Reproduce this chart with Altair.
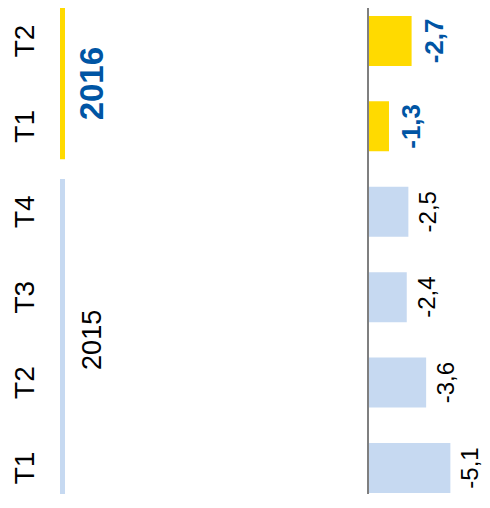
import altair as alt
import pandas as pd

# Data (chronological order)
quarters = ["T1", "T2", "T3", "T4", "T1", "T2"]
years = ["2015", "2015", "2015", "2015", "2016", "2016"]
values = [-5.1, -3.6, -2.4, -2.5, -1.3, -2.7]
year_list = ["2015", "2016"]

n = len(values)
df = pd.DataFrame({
    "quarter": quarters,
    "year": years,
    "value": values,
    "pos": [n - 1 - i for i in range(n)],
})
df["label"] = df["value"].map(lambda v: f"{v:.1f}".replace(".", ","))

# group extents for the year lines / labels
inset = 0.115
groups = df.groupby("year")["pos"].agg(["min", "max"]).reset_index()
groups["y1"] = groups["min"] - 0.5 + inset
groups["y2"] = groups["max"] + 0.5 - inset
groups["mid"] = (groups["min"] + groups["max"]) / 2

W, H = 474, 486
PX_PER_UNIT = 16.15
ZERO_X = 360
yscale = alt.Scale(domain=[-0.386, -0.386 + H / 85.4], reverse=True, nice=False, zero=False, padding=0)
xscale = alt.Scale(domain=[-(W - ZERO_X) / PX_PER_UNIT, ZERO_X / PX_PER_UNIT],
                   reverse=True, nice=False, zero=False, padding=0)

colors = alt.Scale(domain=year_list, range=["#C6D9F1", "#FFDA00"])
BLUE = "#0055A4"
FONT = "Liberation Sans"

base = alt.Chart(df)

bars = base.mark_bar(size=50, orient="horizontal").encode(
    x=alt.X("value:Q", scale=xscale, axis=None),
    x2=alt.datum(0),
    y=alt.Y("pos:Q", scale=yscale, axis=None),
    color=alt.Color("year:N", scale=colors, legend=None),
)

zero_rule = base.mark_rule(color="#7F7F7F", strokeWidth=2).encode(
    x=alt.datum(0, scale=xscale),
    y=alt.value(0),
    y2=alt.value(H),
)

lab15 = base.transform_filter(alt.datum.year == "2015").mark_text(
    angle=270, align="center", baseline="top", dy=9, fontSize=24, font=FONT, color="black"
).encode(
    x=alt.X("value:Q", scale=xscale),
    y=alt.Y("pos:Q", scale=yscale),
    text="label:N",
)
lab16 = base.transform_filter(alt.datum.year == "2016").mark_text(
    angle=270, align="center", baseline="top", dy=10, fontSize=26, fontWeight="bold", font=FONT, color=BLUE
).encode(
    x=alt.X("value:Q", scale=xscale),
    y=alt.Y("pos:Q", scale=yscale),
    text="label:N",
)

qlabels = base.mark_text(
    angle=270, align="center", baseline="middle", fontSize=28, font=FONT, color="black"
).encode(
    x=alt.value(18),
    y=alt.Y("pos:Q", scale=yscale),
    text="quarter:N",
)

gbase = alt.Chart(groups)
year_lines = gbase.mark_rule(strokeWidth=5).encode(
    x=alt.value(54.5),
    y=alt.Y("y1:Q", scale=yscale),
    y2="y2:Q",
    color=alt.Color("year:N", scale=colors, legend=None),
)
ylab15 = gbase.transform_filter(alt.datum.year == "2015").mark_text(
    angle=270, align="center", baseline="middle", fontSize=27, font=FONT, color="black"
).encode(
    x=alt.value(85),
    y=alt.Y("mid:Q", scale=yscale),
    text="year:N",
)
ylab16 = gbase.transform_filter(alt.datum.year == "2016").mark_text(
    angle=270, align="center", baseline="middle", fontSize=33, fontWeight="bold", font=FONT, color=BLUE
).encode(
    x=alt.value(85),
    y=alt.Y("mid:Q", scale=yscale),
    text="year:N",
)

chart = alt.layer(
    bars, zero_rule, lab15, lab16, qlabels, year_lines, ylab15, ylab16
).properties(
    width=W, height=H, autosize=alt.AutoSizeParams(type="none"), padding=0
).configure_view(stroke=None)

chart.save("out.html", embed_options={"renderer": "svg", "actions": False})
